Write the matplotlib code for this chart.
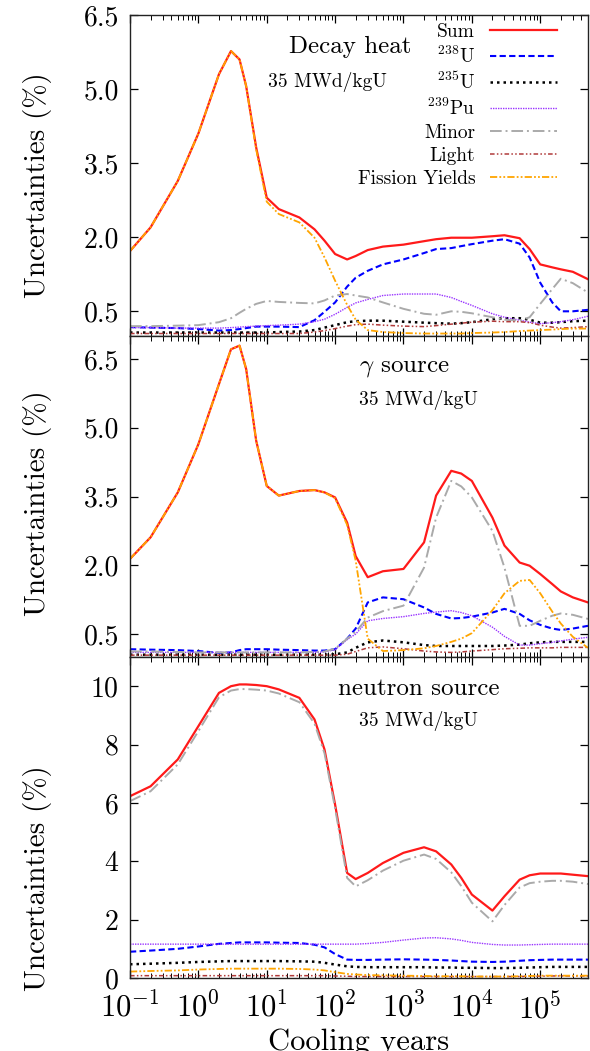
import numpy as np
import matplotlib
matplotlib.use("Agg")
import matplotlib.pyplot as plt
from matplotlib.ticker import LogLocator, FixedLocator, NullFormatter

plt.rcParams['font.family'] = 'serif'
plt.rcParams['font.serif'] = ['cmr10']
plt.rcParams['mathtext.fontset'] = 'cm'
plt.rcParams['axes.formatter.use_mathtext'] = True
plt.rcParams['axes.unicode_minus'] = False

# cooling years (shared x grid)
years = [0.1, 0.2, 0.5, 1, 2, 3, 4, 5, 7, 10, 15, 30, 50, 70, 100, 150, 200, 300,
         500, 1000, 2000, 3000, 5000, 7000, 1e4, 2e4, 3e4, 5e4, 7e4, 1e5, 1.5e5,
         2e5, 3e5, 5e5]

# --- decay heat ---
heat_sum = [1.72, 2.2, 3.14, 4.1, 5.3, 5.77, 5.6, 5.06, 3.82, 2.8, 2.57, 2.4, 2.16, 1.93,
            1.66, 1.55, 1.62, 1.74, 1.81, 1.85, 1.92, 1.96, 1.99, 1.99, 1.99, 2.02, 2.04,
            1.98, 1.76, 1.45, 1.39, 1.35, 1.30, 1.15]
heat_u238 = [0.18, 0.17, 0.16, 0.14, 0.11, 0.12, 0.14, 0.16, 0.19, 0.19, 0.19, 0.18, 0.32,
             0.49, 0.68, 1.0, 1.18, 1.32, 1.45, 1.55, 1.68, 1.76, 1.78, 1.82, 1.86, 1.93,
             1.96, 1.87, 1.59, 1.08, 0.68, 0.5, 0.5, 0.53]
heat_u235 = [0.07, 0.07, 0.07, 0.07, 0.07, 0.07, 0.07, 0.07, 0.07, 0.07, 0.08, 0.09, 0.12,
             0.17, 0.22, 0.28, 0.30, 0.31, 0.31, 0.29, 0.27, 0.26, 0.25, 0.26, 0.28, 0.34,
             0.36, 0.36, 0.33, 0.27, 0.27, 0.28, 0.30, 0.31]
heat_pu239 = [0.17, 0.17, 0.16, 0.16, 0.16, 0.17, 0.18, 0.19, 0.2, 0.21, 0.22, 0.24, 0.29,
              0.34, 0.44, 0.58, 0.67, 0.74, 0.82, 0.85, 0.85, 0.85, 0.78, 0.70, 0.62, 0.45,
              0.38, 0.32, 0.28, 0.25, 0.27, 0.29, 0.33, 0.40]
heat_minor = [0.2, 0.2, 0.21, 0.22, 0.28, 0.36, 0.47, 0.55, 0.65, 0.71, 0.69, 0.67, 0.66,
              0.72, 0.82, 0.85, 0.82, 0.78, 0.68, 0.55, 0.45, 0.43, 0.5, 0.49, 0.46, 0.38,
              0.33, 0.31, 0.38, 0.65, 0.95, 1.16, 1.07, 0.88]
heat_light = [0.05, 0.05, 0.05, 0.05, 0.05, 0.05, 0.05, 0.05, 0.05, 0.05, 0.05, 0.05, 0.08,
              0.11, 0.15, 0.2, 0.23, 0.24, 0.22, 0.20, 0.19, 0.21, 0.24, 0.26, 0.28, 0.30,
              0.29, 0.29, 0.27, 0.22, 0.18, 0.16, 0.17, 0.19]
heat_fy = [1.72, 2.2, 3.14, 4.1, 5.3, 5.77, 5.6, 5.06, 3.78, 2.72, 2.47, 2.30, 1.99, 1.59,
           1.12, 0.63, 0.33, 0.12, 0.08, 0.06, 0.05, 0.05, 0.05, 0.05, 0.06, 0.07, 0.08,
           0.1, 0.11, 0.12, 0.13, 0.14, 0.15, 0.15]

# --- gamma source ---
gam_sum = [2.14, 2.61, 3.59, 4.64, 5.95, 6.71, 6.79, 6.28, 4.72, 3.73, 3.52, 3.62, 3.64,
           3.59, 3.48, 2.93, 2.2, 1.74, 1.87, 1.92, 2.5, 3.52, 4.06, 4.0, 3.84, 3.04, 2.43,
           2.06, 1.99, 1.81, 1.59, 1.43, 1.30, 1.19]
gam_u238 = [0.17, 0.16, 0.15, 0.13, 0.09, 0.10, 0.15, 0.17, 0.17, 0.17, 0.16, 0.15, 0.14,
            0.14, 0.17, 0.40, 0.62, 1.19, 1.30, 1.26, 1.08, 0.94, 0.84, 0.85, 0.88, 0.97,
            1.05, 0.94, 0.80, 0.70, 0.62, 0.59, 0.62, 0.68]
gam_u235 = [0.05, 0.05, 0.05, 0.05, 0.05, 0.05, 0.05, 0.05, 0.05, 0.05, 0.05, 0.05, 0.05,
            0.05, 0.06, 0.10, 0.20, 0.32, 0.36, 0.32, 0.26, 0.24, 0.24, 0.24, 0.24, 0.24,
            0.25, 0.27, 0.30, 0.32, 0.33, 0.33, 0.33, 0.33]
gam_pu239 = [0.1, 0.1, 0.1, 0.1, 0.1, 0.1, 0.1, 0.1, 0.1, 0.1, 0.1, 0.1, 0.1, 0.11, 0.16,
             0.38, 0.50, 0.79, 0.84, 0.88, 0.95, 0.98, 1.01, 0.97, 0.90, 0.65, 0.45, 0.26,
             0.26, 0.29, 0.32, 0.35, 0.39, 0.43]
gam_minor = [0.12, 0.12, 0.11, 0.1, 0.1, 0.1, 0.1, 0.1, 0.1, 0.1, 0.1, 0.1, 0.11, 0.12,
             0.18, 0.40, 0.55, 0.86, 1.0, 1.12, 1.95, 3.04, 3.84, 3.72, 3.48, 2.75, 1.95,
             0.68, 0.68, 0.79, 0.90, 0.95, 0.92, 0.83]
gam_light = [0.04, 0.04, 0.04, 0.04, 0.04, 0.04, 0.04, 0.04, 0.04, 0.04, 0.04, 0.04, 0.04,
             0.04, 0.04, 0.06, 0.12, 0.20, 0.22, 0.18, 0.13, 0.11, 0.10, 0.11, 0.13, 0.16,
             0.18, 0.19, 0.2, 0.2, 0.2, 0.21, 0.21, 0.21]
gam_fy = [2.14, 2.61, 3.59, 4.64, 5.95, 6.71, 6.79, 6.28, 4.72, 3.73, 3.52, 3.62, 3.64,
          3.59, 3.46, 2.88, 2.1, 0.4, 0.13, 0.15, 0.19, 0.24, 0.33, 0.40, 0.52, 1.02, 1.39,
          1.66, 1.68, 1.39, 0.99, 0.73, 0.44, 0.2]

# --- neutron source ---
neu_sum = [6.23, 6.57, 7.49, 8.63, 9.77, 10.0, 10.06, 10.06, 10.04, 10.0, 9.89, 9.6, 8.86,
           7.83, 5.94, 3.6, 3.39, 3.6, 3.94, 4.29, 4.48, 4.34, 3.89, 3.43, 2.86, 2.31, 2.8,
           3.37, 3.52, 3.58, 3.58, 3.58, 3.54, 3.49]
neu_u238 = [0.9, 0.94, 1.0, 1.08, 1.17, 1.2, 1.22, 1.22, 1.22, 1.22, 1.21, 1.2, 1.14, 1.05,
            0.82, 0.63, 0.62, 0.62, 0.63, 0.64, 0.63, 0.62, 0.60, 0.58, 0.56, 0.55, 0.56,
            0.59, 0.61, 0.62, 0.63, 0.63, 0.63, 0.63]
neu_u235 = [0.47, 0.49, 0.52, 0.55, 0.57, 0.58, 0.58, 0.58, 0.58, 0.58, 0.58, 0.57, 0.56,
            0.52, 0.46, 0.40, 0.38, 0.37, 0.37, 0.37, 0.37, 0.36, 0.36, 0.35, 0.35, 0.34,
            0.34, 0.35, 0.36, 0.37, 0.38, 0.38, 0.38, 0.38]
neu_pu239 = [1.16, 1.16, 1.16, 1.16, 1.16, 1.16, 1.16, 1.16, 1.16, 1.16, 1.16, 1.16, 1.16,
             1.16, 1.16, 1.16, 1.16, 1.18, 1.22, 1.3, 1.37, 1.38, 1.34, 1.29, 1.22, 1.15,
             1.13, 1.13, 1.14, 1.15, 1.16, 1.16, 1.16, 1.16]
neu_minor = [6.06, 6.4, 7.32, 8.46, 9.62, 9.85, 9.9, 9.9, 9.88, 9.85, 9.75, 9.45, 8.72, 7.7,
             5.82, 3.43, 3.14, 3.35, 3.68, 4.02, 4.23, 4.08, 3.62, 3.15, 2.58, 1.94, 2.5,
             3.1, 3.25, 3.3, 3.33, 3.33, 3.3, 3.22]
neu_light = [0.08, 0.08, 0.08, 0.08, 0.08, 0.08, 0.08, 0.08, 0.08, 0.08, 0.08, 0.08, 0.08,
             0.08, 0.07, 0.06, 0.05, 0.05, 0.05, 0.05, 0.05, 0.05, 0.05, 0.05, 0.05, 0.05,
             0.05, 0.05, 0.06, 0.06, 0.07, 0.07, 0.07, 0.07]
neu_fy = [0.22, 0.24, 0.26, 0.29, 0.31, 0.32, 0.32, 0.32, 0.32, 0.32, 0.32, 0.31, 0.29,
          0.26, 0.2, 0.14, 0.12, 0.1, 0.09, 0.08, 0.07, 0.06, 0.06, 0.06, 0.05, 0.05, 0.05,
          0.06, 0.07, 0.08, 0.08, 0.08, 0.08, 0.08]

labels = ['Sum', r'$^{238}$U', r'$^{235}$U', r'$^{239}$Pu', 'Minor', 'Light', 'Fission Yields']
colors = ['#ff1a1a', '#0000ff', '#000000', '#9933ff', '#aaaaaa', '#b03a3a', '#ffa500']
styles = ['-', (0, (3, 1.6)), (0, (1, 1.6)), (0, (1, 0.8)), (0, (6, 2, 1, 2)),
          (0, (3, 1.5, 1, 1.5, 1, 1.5)), (0, (4, 1.2, 1, 1.2, 1, 1.2))]
widths = [1.6, 1.5, 1.8, 1.0, 1.4, 1.1, 1.3]

panels = [
    [heat_sum, heat_u238, heat_u235, heat_pu239, heat_minor, heat_light, heat_fy],
    [gam_sum, gam_u238, gam_u235, gam_pu239, gam_minor, gam_light, gam_fy],
    [neu_sum, neu_u238, neu_u235, neu_pu239, neu_minor, neu_light, neu_fy],
]

W, H = 590, 1051
fig = plt.figure(figsize=(W / 100, H / 100), dpi=100)
left, right = 130, 588
edges = [15, 336, 657, 978]
axes = []
for i in range(3):
    top, bot = edges[i], edges[i + 1]
    ax = fig.add_axes([left / W, 1 - bot / H, (right - left) / W, (bot - top) / H])
    axes.append(ax)

for ax, series in zip(axes, panels):
    for vals, lab, c, ls, lw in zip(series, labels, colors, styles, widths):
        ax.plot(years, vals, color=c, ls=ls, lw=lw, label=lab)
    ax.set_xscale('log')
    ax.set_xlim(0.1, 5e5)
    ax.xaxis.set_major_locator(LogLocator(base=10, numticks=20))
    ax.xaxis.set_minor_locator(LogLocator(base=10, subs=np.arange(2, 10), numticks=20))
    ax.xaxis.set_minor_formatter(NullFormatter())
    ax.tick_params(which='both', direction='in', top=True, right=True)
    ax.tick_params(axis='y', labelsize=20, pad=8)
    ax.tick_params(axis='x', labelsize=22, pad=10)
    ax.tick_params(which='major', length=6, width=0.9)
    ax.tick_params(which='minor', length=3.5, width=0.7)
    for s in ax.spines.values():
        s.set_linewidth(1.0)
        s.set_color('#222222')
    ax.set_ylabel('Uncertainties (%)', fontsize=21)

axes[0].yaxis.set_label_coords(-0.17, 0.47)
axes[1].yaxis.set_label_coords(-0.17, 0.48)
axes[2].yaxis.set_label_coords(-0.17, 0.31)

for ax in axes[:2]:
    ax.set_ylim(0, 6.5)
    ax.yaxis.set_major_locator(FixedLocator([0.5, 2.0, 3.5, 5.0, 6.5]))
    ax.set_yticklabels(['0.5', '2.0', '3.5', '5.0', '6.5'])
    ax.tick_params(labelbottom=False)
axes[1].set_ylim(0, 7)
axes[2].set_ylim(0, 11)
axes[2].yaxis.set_major_locator(FixedLocator([0, 2, 4, 6, 8, 10]))
axes[2].set_xlabel('Cooling years', fontsize=22, labelpad=3)

leg = axes[0].legend(loc='upper right', frameon=False, markerfirst=False, fontsize=14,
                     handlelength=3.45, labelspacing=0.25, handletextpad=0.75,
                     borderpad=0, borderaxespad=0, bbox_to_anchor=(0.932, 0.975))

axes[0].text(0.48, 0.9, 'Decay heat', transform=axes[0].transAxes, fontsize=18,
             ha='center', va='center')
axes[0].text(0.43, 0.79, '35 MWd/kgU', transform=axes[0].transAxes, fontsize=14,
             ha='center', va='center')
axes[1].text(0.6, 0.9, r'$\gamma$ source', transform=axes[1].transAxes, fontsize=18,
             ha='center', va='center')
axes[1].text(0.63, 0.8, '35 MWd/kgU', transform=axes[1].transAxes, fontsize=14,
             ha='center', va='center')
axes[2].text(0.63, 0.9, 'neutron source', transform=axes[2].transAxes, fontsize=18,
             ha='center', va='center')
axes[2].text(0.63, 0.8, '35 MWd/kgU', transform=axes[2].transAxes, fontsize=14,
             ha='center', va='center')

fig.savefig('out.png', dpi=100)
